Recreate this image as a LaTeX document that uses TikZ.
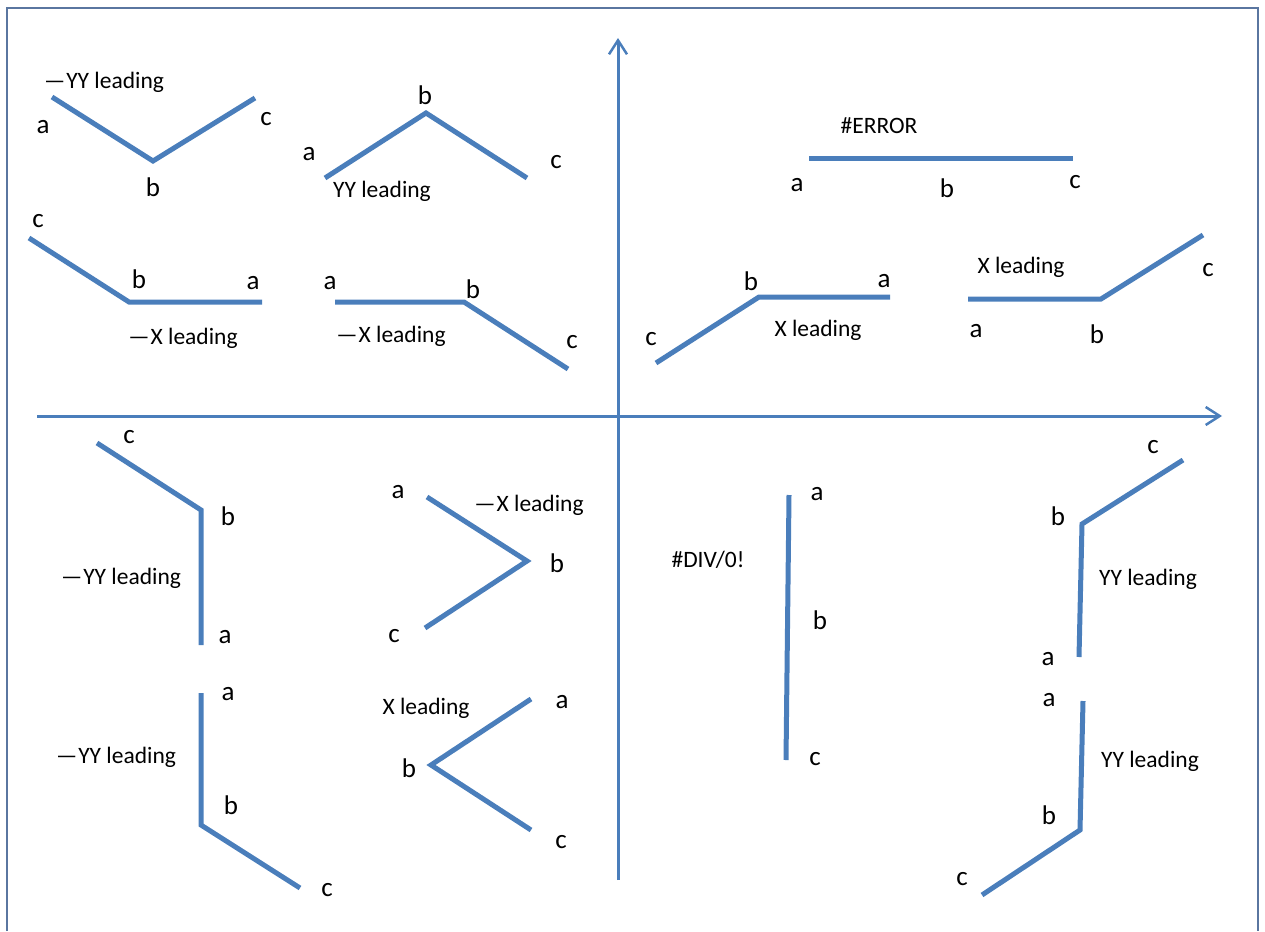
\documentclass[tikz,border=0pt]{standalone}
\usepackage{fontspec}
\setmainfont{Carlito}
\usetikzlibrary{arrows.meta}
\definecolor{lineblue}{RGB}{74,126,187}
\definecolor{frameblue}{RGB}{90,118,160}
\newcommand{\lead}{\textemdash\kern1pt}
\tikzset{
  polyline/.style={draw=lineblue,line width=5pt,line join=miter},
  axis/.style={draw=lineblue,line width=3pt,-{Straight Barb[length=14pt,width=18pt,line width=2.5pt]}},
  pt/.style={inner sep=0pt,font=\fontsize{27}{30}\selectfont},
  lab/.style={inner sep=0pt,font=\fontsize{23.5}{27}\selectfont},
}
\begin{document}
\begin{tikzpicture}[x=1pt,y=-1pt]
\useasboundingbox (0,0) rectangle (1265,931);
% frame (open at bottom)
\draw[frameblue,line width=1.5pt] (7,931) -- (7,8) -- (1258,8) -- (1258,931);
% axes
\coordinate (vb) at (618,880); \coordinate (vt) at (618,38);
\coordinate (hl) at (37,416);  \coordinate (hr) at (1222,416);
\draw[axis] (vb) -- (vt);
\draw[axis] (hl) -- (hr);

% ---------- top-left ----------
\coordinate (s1a) at (52,97); \coordinate (s1b) at (153,161); \coordinate (s1c) at (255,98);
\draw[polyline] (s1a) -- (s1b) -- (s1c);
\node[lab] (s1l) at (104,82) {\lead YY leading};
\node[pt] (s1ta) at (43,127) {a};
\node[pt] (s1tb) at (153,187) {b};
\node[pt] (s1tc) at (266,119) {c};

\coordinate (s2a) at (325,178); \coordinate (s2b) at (426,113); \coordinate (s2c) at (527,178);
\draw[polyline] (s2a) -- (s2b) -- (s2c);
\node[lab] (s2l) at (382,191) {YY leading};
\node[pt] (s2ta) at (309,154) {a};
\node[pt] (s2tb) at (425,95) {b};
\node[pt] (s2tc) at (556,162) {c};

\coordinate (s3c) at (29,238); \coordinate (s3b) at (129,302); \coordinate (s3a) at (262,302);
\draw[polyline] (s3c) -- (s3b) -- (s3a);
\node[lab] (s3l) at (183,338) {\lead X leading};
\node[pt] (s3tc) at (38,221) {c};
\node[pt] (s3tb) at (139,279) {b};
\node[pt] (s3ta) at (253,283) {a};

\coordinate (s4a) at (335,302); \coordinate (s4b) at (464,302); \coordinate (s4c) at (568,369);
\draw[polyline] (s4a) -- (s4b) -- (s4c);
\node[lab] (s4l) at (391,336) {\lead X leading};
\node[pt] (s4ta) at (330,283) {a};
\node[pt] (s4tb) at (473,289) {b};
\node[pt] (s4tc) at (572,342) {c};

% ---------- top-right ----------
\coordinate (s5a) at (809,158); \coordinate (s5c) at (1073,158);
\draw[polyline] (s5a) -- (s5c);
\node[lab] (s5l) at (879,126) {\#ERROR};
\node[pt] (s5ta) at (797,185) {a};
\node[pt] (s5tb) at (947,188) {b};
\node[pt] (s5tc) at (1075,182) {c};

\coordinate (s6c) at (656,363); \coordinate (s6b) at (759,297); \coordinate (s6a) at (890,297);
\draw[polyline] (s6c) -- (s6b) -- (s6a);
\node[lab] (s6l) at (818,330) {X leading};
\node[pt] (s6tc) at (651,339) {c};
\node[pt] (s6tb) at (751,281) {b};
\node[pt] (s6ta) at (884,281) {a};

\coordinate (s7a) at (968,299); \coordinate (s7b) at (1101,299); \coordinate (s7c) at (1203,235);
\draw[polyline] (s7a) -- (s7b) -- (s7c);
\node[lab] (s7l) at (1021,267) {X leading};
\node[pt] (s7ta) at (976,331) {a};
\node[pt] (s7tb) at (1097,334) {b};
\node[pt] (s7tc) at (1208,270) {c};

% ---------- bottom-left ----------
\coordinate (s8c) at (97,443); \coordinate (s8b) at (201,510); \coordinate (s8a) at (201,645);
\draw[polyline] (s8c) -- (s8b) -- (s8a);
\node[lab] (s8l) at (121,578) {\lead YY leading};
\node[pt] (s8tc) at (129,437) {c};
\node[pt] (s8tb) at (228,516) {b};
\node[pt] (s8ta) at (225,637) {a};

\coordinate (s9a) at (201,693); \coordinate (s9b) at (201,825); \coordinate (s9c) at (300,888);
\draw[polyline] (s9a) -- (s9b) -- (s9c);
\node[lab] (s9l) at (116,757) {\lead YY leading};
\node[pt] (s9ta) at (228,694) {a};
\node[pt] (s9tb) at (231,805) {b};
\node[pt] (s9tc) at (327,890) {c};

\coordinate (s10a) at (427,497); \coordinate (s10b) at (527,561); \coordinate (s10c) at (425,628);
\draw[polyline] (s10a) -- (s10b) -- (s10c);
\node[lab] (s10l) at (529,505) {\lead X leading};
\node[pt] (s10ta) at (398,492) {a};
\node[pt] (s10tb) at (557,563) {b};
\node[pt] (s10tc) at (394,636) {c};

\coordinate (s11a) at (531,699); \coordinate (s11b) at (431,765); \coordinate (s11c) at (531,830);
\draw[polyline] (s11a) -- (s11b) -- (s11c);
\node[lab] (s11l) at (426,708) {X leading};
\node[pt] (s11ta) at (562,702) {a};
\node[pt] (s11tb) at (409,768) {b};
\node[pt] (s11tc) at (561,842) {c};

% ---------- bottom-right ----------
\coordinate (s12a) at (789,495); \coordinate (s12c) at (786,760);
\draw[polyline] (s12a) -- (s12c);
\node[lab] (s12l) at (708,560) {\#DIV/0!};
\node[pt] (s12ta) at (817,494) {a};
\node[pt] (s12tb) at (820,620) {b};
\node[pt] (s12tc) at (815,759) {c};

\coordinate (s13c) at (1183,460); \coordinate (s13b) at (1082,524); \coordinate (s13a) at (1079,657);
\draw[polyline] (s13c) -- (s13b) -- (s13a);
\node[lab] (s13l) at (1148,579) {YY leading};
\node[pt] (s13tc) at (1153,447) {c};
\node[pt] (s13tb) at (1058,516) {b};
\node[pt] (s13ta) at (1048,659) {a};

\coordinate (s14a) at (1083,701); \coordinate (s14b) at (1080,830); \coordinate (s14c) at (982,895);
\draw[polyline] (s14a) -- (s14b) -- (s14c);
\node[lab] (s14l) at (1150,761) {YY leading};
\node[pt] (s14ta) at (1049,700) {a};
\node[pt] (s14tb) at (1049,815) {b};
\node[pt] (s14tc) at (962,879) {c};
\end{tikzpicture}
\end{document}
